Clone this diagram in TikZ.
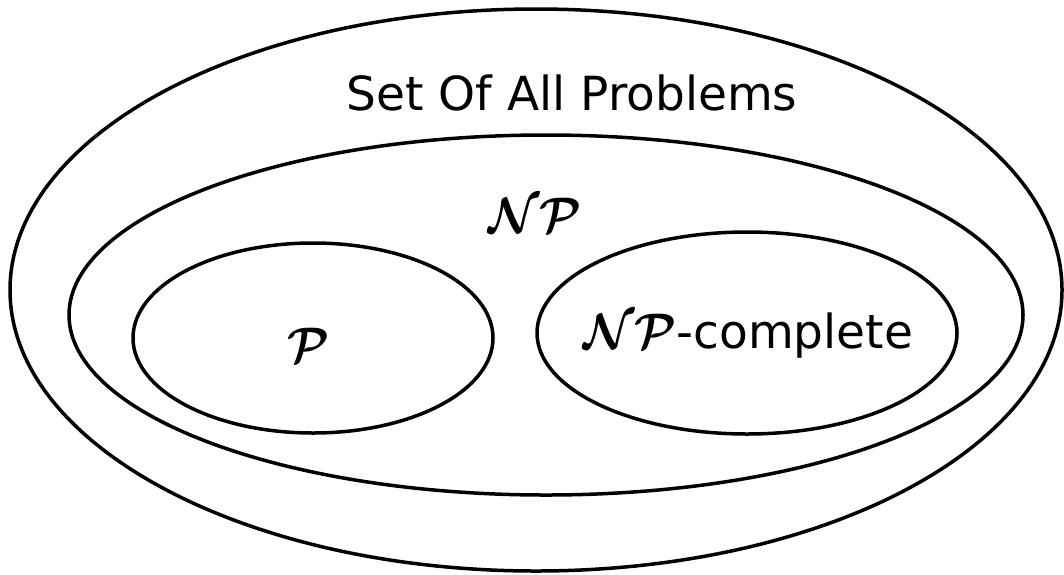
\documentclass[tikz,border=0pt]{standalone}
\usepackage{fontspec}
\setmainfont{DejaVu Sans}
\usepackage{graphicx}
\usetikzlibrary{shapes.geometric}
\begin{document}
\begin{tikzpicture}[x=1pt,y=-1pt,
  ell/.style={draw, ellipse, line width=3.5pt, inner sep=0pt, outer sep=0pt},
  lbl/.style={anchor=base, inner sep=0pt, font=\fontsize{47}{56}\selectfont},
  cal/.style={anchor=base, inner sep=0pt}]
\newcommand{\calsym}[1]{\scalebox{4.7}[5]{\fontsize{10}{12}\selectfont\boldmath$\mathcal{#1}$}}
\useasboundingbox (0,0) rectangle (1064,574);
\node[ell, minimum width=1052pt, minimum height=562pt] (all) at (536,290) {};
\node[ell, minimum width=954pt, minimum height=360pt] (np) at (546,315) {};
\node[ell, minimum width=360pt, minimum height=190pt] (p) at (313,338) {};
\node[ell, minimum width=420pt, minimum height=202pt] (npc) at (747,333) {};
\node[lbl] (tall) at (572,110) {Set Of All Problems};
\node[cal] (tnp) at (535,232) {\calsym{NP}};
\node[cal] (tp) at (309,362) {\calsym{P}};
\node[lbl, anchor=base west] (tnpc) at (583,348) {\calsym{NP}-complete};
\end{tikzpicture}
\end{document}
